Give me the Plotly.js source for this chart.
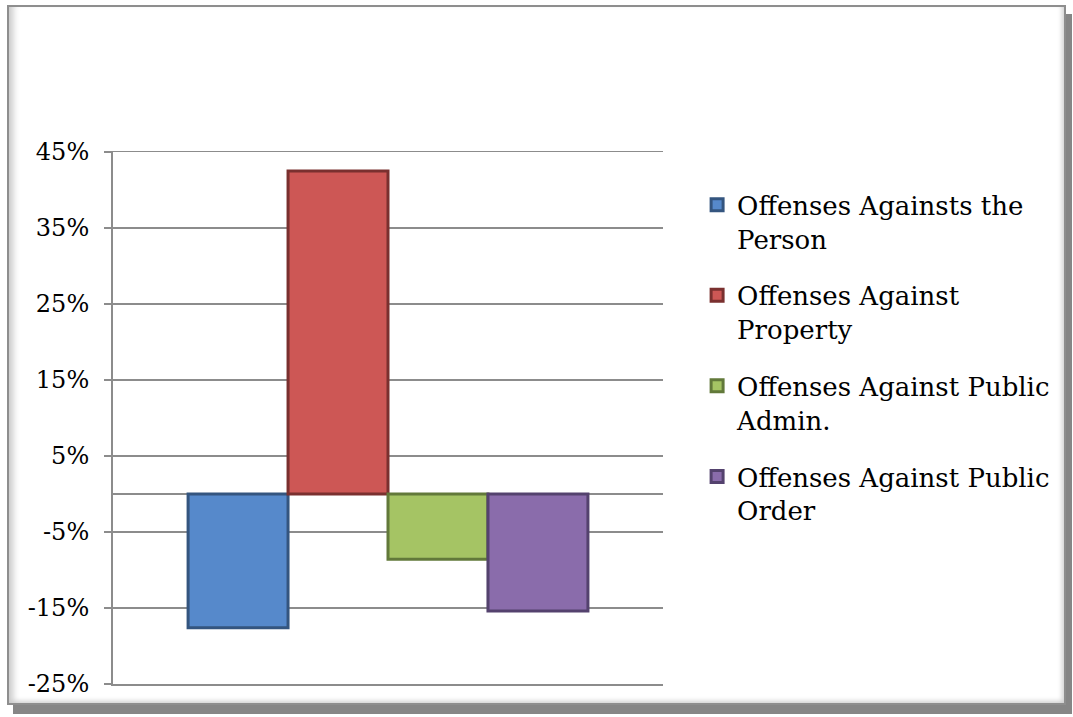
<!DOCTYPE html>
<html>
<head>
<meta charset="utf-8">
<script src="https://cdn.plot.ly/plotly-3.0.1.min.js"></script>
<style>
  html, body { margin: 0; padding: 0; background: #ffffff; }
  #wrap { position: relative; width: 1073px; height: 717px; overflow: hidden; background: #ffffff; }
  #frame {
    position: absolute; left: 7px; top: 5px; width: 1055px; height: 696px;
    border: 2px solid #8e8e8e;
    box-shadow: 6px 9px 0 #868686, inset 9px 0 7px -5px #c8c8c8, inset -6px 0 5px -4px #d0d0d0, inset 0 -6px 5px -4px #d0d0d0;
    background: #ffffff;
  }
  #chart { position: absolute; left: 0; top: 0; width: 1073px; height: 717px; }
</style>
</head>
<body>
<div id="wrap">
  <div id="frame"></div>
  <div id="chart"></div>
</div>
<script>
const categories = [''];
const seriesNames = [
  'Offenses Againsts the<br>Person',
  'Offenses Against<br>Property',
  'Offenses Against Public<br>Admin.',
  'Offenses Against Public<br>Order'
];
const personValues = [-17.6];
const propertyValues = [42.5];
const publicAdminValues = [-8.6];
const publicOrderValues = [-15.4];
const tickValues = [-25, -15, -5, 5, 15, 25, 35, 45];
const tickLabels = ['-25%', '-15%', '-5%', '5%', '15%', '25%', '35%', '45%'];

const fills = ['#5689CB', '#CD5755', '#A5C464', '#8A6CAB'];
const edges = ['#34557F', '#7A302F', '#62793A', '#54426E'];
const allValues = [personValues, propertyValues, publicAdminValues, publicOrderValues];

const traces = allValues.map((vals, i) => ({
  type: 'bar',
  x: categories,
  y: vals,
  name: seriesNames[i],
  legendgroup: 'g' + i,
  marker: { color: fills[i], line: { color: edges[i], width: 3 } },
  hoverinfo: 'none'
}));

const layout = {
  width: 1073,
  height: 717,
  paper_bgcolor: 'rgba(0,0,0,0)',
  plot_bgcolor: 'rgba(0,0,0,0)',
  margin: { l: 113, r: 410, t: 152, b: 33, pad: 0 },
  barmode: 'group',
  bargap: 0.273,
  bargroupgap: 0,
  font: { family: 'DejaVu Serif, serif', size: 26, color: '#000000' },
  showlegend: true,
  legend: {
    x: 1.062, y: 0.945, xanchor: 'left', yanchor: 'top',
    font: { family: 'DejaVu Serif, serif', size: 26, color: '#000000' },
    valign: 'top',
    traceorder: 'grouped',
    tracegroupgap: 20,
    bgcolor: 'rgba(0,0,0,0)'
  },
  xaxis: {
    type: 'category',
    showticklabels: false,
    showgrid: false,
    zeroline: false,
    showline: true,
    mirror: true,
    linecolor: '#8c8c8c',
    linewidth: 1.5,
    ticks: '',
    fixedrange: true
  },
  yaxis: {
    range: [-25, 45],
    tickmode: 'array',
    tickvals: tickValues,
    ticktext: tickLabels,
    showgrid: true,
    gridcolor: '#8c8c8c',
    gridwidth: 1.5,
    zeroline: true,
    zerolinecolor: '#8c8c8c',
    zerolinewidth: 2,
    showline: true,
    linecolor: '#8c8c8c',
    linewidth: 2,
    ticks: 'outside',
    ticklen: 7,
    tickwidth: 1.5,
    tickcolor: '#8c8c8c',
    ticklabelstandoff: 10,
    tickfont: { family: 'DejaVu Serif, serif', size: 24, color: '#000000' },
    fixedrange: true
  }
};

Plotly.newPlot('chart', traces, layout, { displayModeBar: false, staticPlot: true });
</script>
</body>
</html>
